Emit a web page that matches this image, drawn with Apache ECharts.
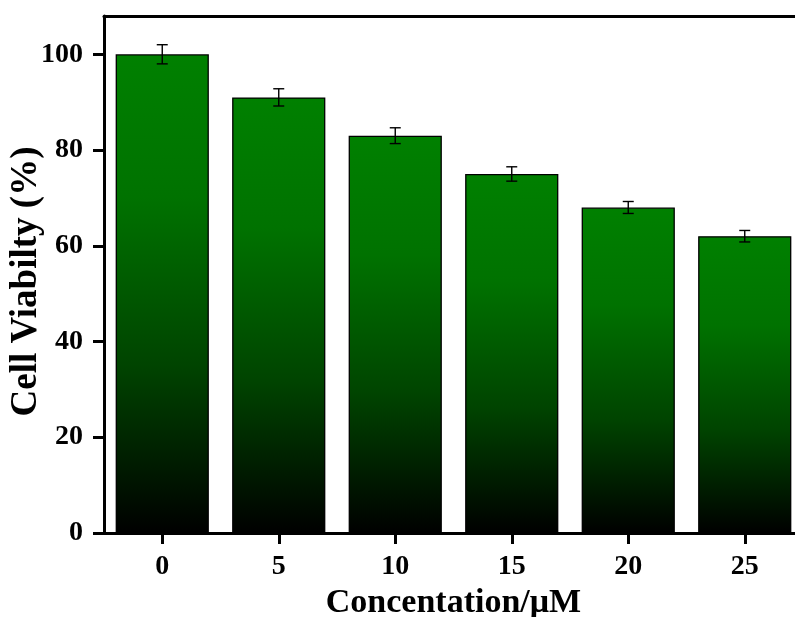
<!DOCTYPE html>
<html>
<head>
<meta charset="utf-8">
<script src="https://cdn.jsdelivr.net/npm/echarts@6/dist/echarts.min.js"></script>
<style>
  html, body { margin: 0; padding: 0; background: #ffffff; }
  #chart { width: 795px; height: 617px; }
</style>
</head>
<body>
<div id="chart"></div>
<script>
// Cell viability after treatment at increasing concentrations
const concentrations = ['0', '5', '10', '15', '20', '25'];
const viability = [100, 91, 83, 75, 68, 62];
const viabilityErr = [2.0, 1.8, 1.65, 1.5, 1.25, 1.2];
const yTicks = [0, 20, 40, 60, 80, 100];

const FONT = '"Liberation Serif", "DejaVu Serif", serif';

const chart = echarts.init(document.getElementById('chart'));

const errData = concentrations.map((c, i) => [c, viability[i], viabilityErr[i]]);

const barFill = new echarts.graphic.LinearGradient(0, 0, 0, 1, [
  { offset: 0, color: '#008000' },
  { offset: 0.3, color: '#007200' },
  { offset: 0.65, color: '#004400' },
  { offset: 1, color: '#000000' }
]);

chart.setOption({
  backgroundColor: '#ffffff',
  animation: false,
  grid: { left: 104, right: -8, top: 16, bottom: 84, containLabel: false, outerBoundsMode: 'none' },
  xAxis: [
    {
      type: 'category',
      data: concentrations,
      position: 'bottom',
      name: 'Concentation/\u03bcM',
      nameLocation: 'middle',
      nameGap: 53,
      nameMoveOverlap: false,
      nameTextStyle: { fontFamily: FONT, fontWeight: 'bold', fontSize: 34, color: '#000' },
      axisLine: { lineStyle: { color: '#000', width: 3 } },
      axisTick: { show: true, alignWithLabel: true, length: 11, lineStyle: { color: '#000', width: 3 } },
      axisLabel: { fontFamily: FONT, fontWeight: 'bold', fontSize: 28, color: '#000', margin: 20 },
      splitLine: { show: false }
    },
    {
      type: 'category',
      data: concentrations,
      position: 'top',
      axisLine: { lineStyle: { color: '#000', width: 3 } },
      axisTick: { show: false },
      axisLabel: { show: false },
      splitLine: { show: false }
    }
  ],
  yAxis: {
    type: 'value',
    min: 0,
    max: 108,
    interval: 20,
    name: 'Cell Viabilty (%)',
    nameLocation: 'middle',
    nameGap: 59,
    nameMoveOverlap: false,
    nameTextStyle: { fontFamily: FONT, fontWeight: 'bold', fontSize: 37, color: '#000', padding: [0, 14, 0, 0] },
    axisLine: { show: true, lineStyle: { color: '#000', width: 3 } },
    axisTick: { show: true, length: 11, lineStyle: { color: '#000', width: 3 } },
    axisLabel: {
      fontFamily: FONT, fontWeight: 'bold', fontSize: 28, color: '#000', margin: 21,
      showMaxLabel: false,
      formatter: v => (yTicks.indexOf(v) >= 0 ? String(v) : '')
    },
    splitLine: { show: false }
  },
  series: [
    {
      type: 'bar',
      data: viability,
      barWidth: '80%',
      itemStyle: { color: barFill, borderColor: '#000', borderWidth: 1.3 },
      z: 2
    },
    {
      type: 'custom',
      data: errData,
      encode: { x: 0, y: 1 },
      z: 5,
      renderItem: function (params, api) {
        const idx = api.value(0);
        const v = api.value(1);
        const e = api.value(2);
        const hi = api.coord([idx, v + e]);
        const lo = api.coord([idx, v - e]);
        const cap = 5.5;
        const style = { stroke: '#000', lineWidth: 1.4 };
        return {
          type: 'group',
          children: [
            { type: 'line', shape: { x1: hi[0], y1: hi[1], x2: lo[0], y2: lo[1] }, style },
            { type: 'line', shape: { x1: hi[0] - cap, y1: hi[1], x2: hi[0] + cap, y2: hi[1] }, style },
            { type: 'line', shape: { x1: lo[0] - cap, y1: lo[1], x2: lo[0] + cap, y2: lo[1] }, style }
          ]
        };
      }
    }
  ]
});
</script>
</body>
</html>
